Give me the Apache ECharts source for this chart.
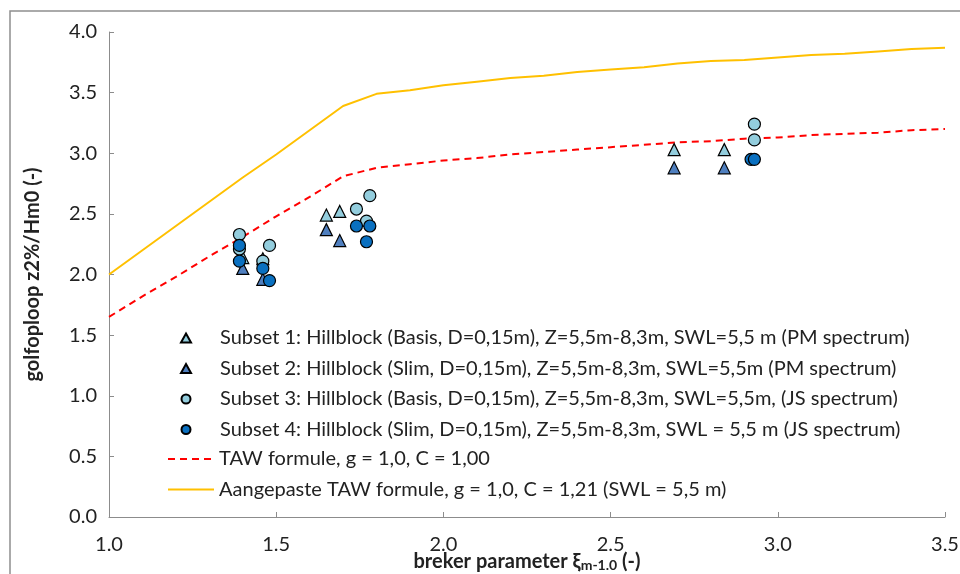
<!DOCTYPE html>
<html>
<head>
<meta charset="utf-8">
<script src="https://cdn.jsdelivr.net/npm/echarts@6/dist/echarts.min.js"></script>
<style>
  html, body { margin: 0; padding: 0; background: #fff; }
  #chart { width: 960px; height: 574px; }
</style>
</head>
<body>
<div id="chart"></div>
<script>
// meetpunten [xi, z2%/Hm0]
var subset1 = [[1.40, 2.14], [1.46, 2.13], [1.65, 2.49], [1.69, 2.52], [2.69, 3.03], [2.84, 3.03]];
var subset2 = [[1.40, 2.05], [1.46, 1.96], [1.65, 2.37], [1.69, 2.28], [2.69, 2.88], [2.84, 2.88]];
var subset3 = [[1.39, 2.33], [1.39, 2.21], [1.48, 2.24], [1.46, 2.11], [1.74, 2.54], [1.78, 2.65], [1.77, 2.44], [2.93, 3.24], [2.93, 3.11]];
var subset4 = [[1.39, 2.24], [1.39, 2.11], [1.46, 2.05], [1.48, 1.95], [1.74, 2.40], [1.78, 2.40], [1.77, 2.27], [2.92, 2.95], [2.93, 2.95]];

// formulelijnen
var xiLine = [1.0, 1.1, 1.2, 1.3, 1.4, 1.5, 1.6, 1.7, 1.8, 1.9, 2.0, 2.1, 2.2, 2.3, 2.4, 2.5, 2.6, 2.7, 2.8, 2.9, 3.0, 3.1, 3.2, 3.3, 3.4, 3.5];
var tawLine = [1.65, 1.82, 1.98, 2.15, 2.31, 2.48, 2.64, 2.81, 2.88, 2.91, 2.94, 2.96, 2.99, 3.01, 3.03, 3.05, 3.07, 3.09, 3.10, 3.12, 3.13, 3.15, 3.16, 3.17, 3.19, 3.20];
var tawAangepast = [2.00, 2.20, 2.40, 2.60, 2.80, 2.99, 3.19, 3.39, 3.49, 3.52, 3.56, 3.59, 3.62, 3.64, 3.67, 3.69, 3.71, 3.74, 3.76, 3.77, 3.79, 3.81, 3.82, 3.84, 3.86, 3.87];

var names = [
    'Subset 1: Hillblock (Basis, D=0,15m), Z=5,5m-8,3m, SWL=5,5 m (PM spectrum)',
    'Subset 2: Hillblock (Slim, D=0,15m), Z=5,5m-8,3m, SWL=5,5m (PM spectrum)',
    'Subset 3: Hillblock (Basis, D=0,15m), Z=5,5m-8,3m, SWL=5,5m, (JS spectrum)',
    'Subset 4: Hillblock (Slim, D=0,15m), Z=5,5m-8,3m, SWL = 5,5 m (JS spectrum)',
    'TAW formule, g = 1,0, C = 1,00',
    'Aangepaste TAW formule, g = 1,0, C = 1,21 (SWL = 5,5 m)'
];

var fontName = 'Lato';
var textColor = '#222';
var axisColor = '#8c8c8c';

function zip(xs, ys) {
    var out = [];
    for (var i = 0; i < xs.length; i++) {
        out.push([xs[i], ys[i]]);
    }
    return out;
}

var chart = echarts.init(document.getElementById('chart'));

chart.setOption({
    animation: false,
    grid: { left: 109, right: 15, top: 32, bottom: 57, outerBoundsMode: 'none', containLabel: false },
    graphic: [{
        type: 'rect',
        shape: { x: 10, y: 11, width: 980, height: 620 },
        style: { fill: 'none', stroke: '#8f8f8f', lineWidth: 1.5 },
        silent: true
    }],
    legend: [{
        orient: 'vertical',
        left: 175,
        top: 323,
        itemWidth: 10,
        itemHeight: 9,
        itemGap: 10.5,
        data: names.slice(0, 4),
        textStyle: { fontFamily: fontName, fontSize: 20, color: textColor, lineHeight: 20, padding: [0, 0, 0, 24] }
    }, {
        orient: 'vertical',
        left: 162,
        top: 444,
        itemWidth: 46,
        itemHeight: 12,
        itemGap: 10.5,
        data: [
            { name: names[4], itemStyle: { opacity: 0 } },
            { name: names[5], itemStyle: { opacity: 0 } }
        ],
        textStyle: { fontFamily: fontName, fontSize: 20, color: textColor, lineHeight: 20 }
    }],
    xAxis: {
        type: 'value',
        min: 1.0,
        max: 3.5,
        interval: 0.5,
        name: '{b|breker parameter ξ}{s|m-1.0}{b| (-)}',
        nameLocation: 'middle',
        nameGap: 34,
        nameMoveOverlap: false,
        nameTextStyle: {
            rich: {
                b: { fontFamily: fontName, fontSize: 20, fontWeight: 'bold', color: textColor },
                s: { fontFamily: fontName, fontSize: 14, fontWeight: 'bold', color: textColor, padding: [7, 0, 0, 0] }
            }
        },
        axisLine: { show: true, lineStyle: { color: axisColor, width: 1 } },
        axisTick: { show: true, inside: true, length: 5, lineStyle: { color: axisColor } },
        splitLine: { show: false },
        axisLabel: {
            fontFamily: fontName, fontSize: 20, color: textColor, margin: 18,
            formatter: function (v) { return v.toFixed(1); }
        }
    },
    yAxis: {
        type: 'value',
        min: 0,
        max: 4.0,
        interval: 0.5,
        name: 'golfoploop z2%/Hm0 (-)',
        nameLocation: 'middle',
        nameGap: 66,
        nameMoveOverlap: false,
        nameTextStyle: { fontFamily: fontName, fontSize: 20, fontWeight: 'bold', color: textColor },
        axisLine: { show: true, lineStyle: { color: axisColor, width: 1 } },
        axisTick: { show: true, inside: true, length: 5, lineStyle: { color: axisColor } },
        splitLine: { show: false },
        axisLabel: {
            fontFamily: fontName, fontSize: 20, color: textColor, margin: 12,
            formatter: function (v) { return v.toFixed(1); }
        }
    },
    series: [
        {
            name: names[4],
            type: 'line',
            data: zip(xiLine, tawLine),
            showSymbol: false,
            symbol: 'none',
            lineStyle: { color: '#ff0000', width: 2, type: [7, 5] },
            itemStyle: { color: '#ff0000' },
            z: 2
        },
        {
            name: names[5],
            type: 'line',
            data: zip(xiLine, tawAangepast),
            showSymbol: false,
            symbol: 'none',
            lineStyle: { color: '#ffc000', width: 2 },
            itemStyle: { color: '#ffc000' },
            z: 2
        },
        {
            name: names[0],
            type: 'scatter',
            data: subset1,
            symbol: 'triangle',
            symbolSize: 12,
            itemStyle: { color: '#93cddd', borderColor: '#000', borderWidth: 1.2, opacity: 1 },
            z: 3
        },
        {
            name: names[1],
            type: 'scatter',
            data: subset2,
            symbol: 'triangle',
            symbolSize: 12,
            itemStyle: { color: '#4f7fbf', borderColor: '#000', borderWidth: 1.2, opacity: 1 },
            z: 3
        },
        {
            name: names[2],
            type: 'scatter',
            data: subset3,
            symbol: 'circle',
            symbolSize: 12,
            itemStyle: { color: '#93cddd', borderColor: '#000', borderWidth: 1.2, opacity: 1 },
            z: 4
        },
        {
            name: names[3],
            type: 'scatter',
            data: subset4,
            symbol: 'circle',
            symbolSize: 12,
            itemStyle: { color: '#0a70c0', borderColor: '#000', borderWidth: 1.2, opacity: 1 },
            z: 4
        }
    ]
});

window.addEventListener('resize', function () {
    chart.resize();
});
</script>
</body>
</html>
